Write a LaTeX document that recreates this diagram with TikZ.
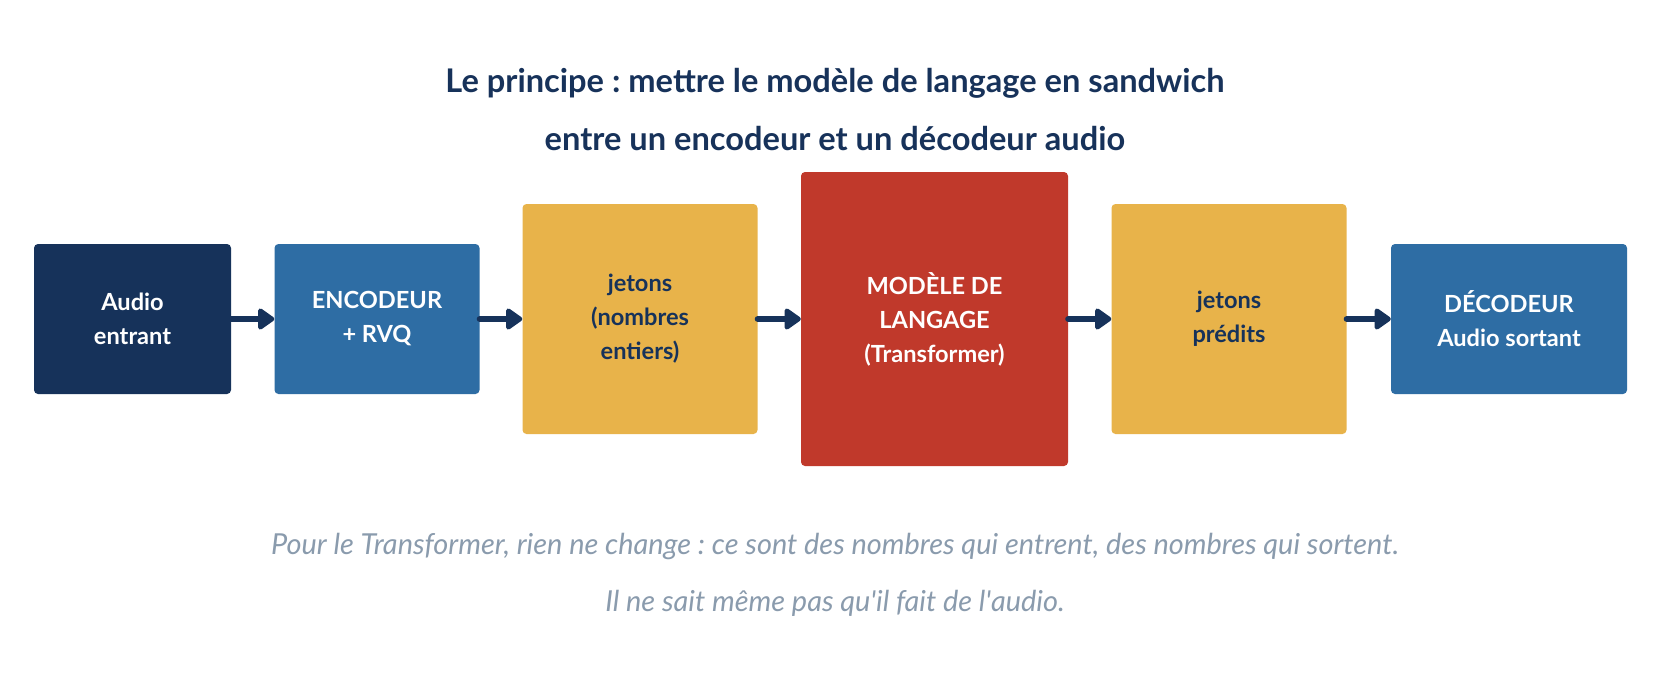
\documentclass[tikz,border=0pt]{standalone}
\usepackage{fontspec}
\setmainfont{Lato}
\usetikzlibrary{arrows.meta}
\definecolor{navy}{HTML}{16325A}
\definecolor{bluebox}{HTML}{2E6DA4}
\definecolor{yellowbox}{HTML}{E8B34A}
\definecolor{redbox}{HTML}{C0392B}
\definecolor{titlecol}{HTML}{17325A}
\definecolor{capcol}{HTML}{8A9BAD}
\frenchspacing
\tikzset{
  box/.style={rectangle, rounded corners=4pt, inner sep=0pt, align=center,
    font=\bfseries\fontsize{23.6}{34}\selectfont},
  flow/.style={draw=navy, line width=6pt, -{Triangle[length=18pt,width=24pt,round]}, line cap=round},
  titletxt/.style={font=\bfseries\fontsize{32.6}{38}\selectfont, text=titlecol},
  captxt/.style={font=\itshape\fontsize{28.9}{34}\selectfont, text=capcol}
}
\begin{document}
\begin{tikzpicture}[x=1pt,y=-1pt]
\useasboundingbox[fill=white] (0,0) rectangle (1667,686);
\node[titletxt] (t1) at (835,83) {Le principe : mettre le modèle de langage en sandwich};
\node[titletxt] (t2) at (835,139) {entre un encodeur et un décodeur audio};
\node[box, fill=navy, text=white, minimum width=197pt, minimum height=150pt] (b1) at (132.5,319) {Audio\\entrant};
\node[box, fill=bluebox, text=white, minimum width=205pt, minimum height=150pt] (b2) at (377,319) {ENCODEUR\\+ RVQ};
\node[box, fill=yellowbox, text=navy, minimum width=235pt, minimum height=230pt] (b3) at (640,319) {jetons\\(nombres\\entiers)};
\node[box, fill=redbox, text=white, minimum width=267pt, minimum height=294pt] (b4) at (934.5,319) {MODÈLE DE\\LANGAGE\\(Transformer)};
\node[box, fill=yellowbox, text=navy, minimum width=235pt, minimum height=230pt] (b5) at (1229,319) {jetons\\prédits};
\node[box, fill=bluebox, text=white, minimum width=236pt, minimum height=150pt] (b6) at (1509,319) {DÉCODEUR\\Audio sortant};
\draw[flow] (b1.east) -- (b2.west);
\draw[flow] (b2.east) -- (b3.west);
\draw[flow] (b3.east) -- (b4.west);
\draw[flow] (b4.east) -- (b5.west);
\draw[flow] (b5.east) -- (b6.west);
\node[captxt] (c1) at (835,546) {Pour le Transformer, rien ne change : ce sont des nombres qui entrent, des nombres qui sortent.};
\node[captxt] (c2) at (835,603) {Il ne sait même pas qu\textquotesingle il fait de l\textquotesingle audio.};
\end{tikzpicture}
\end{document}
